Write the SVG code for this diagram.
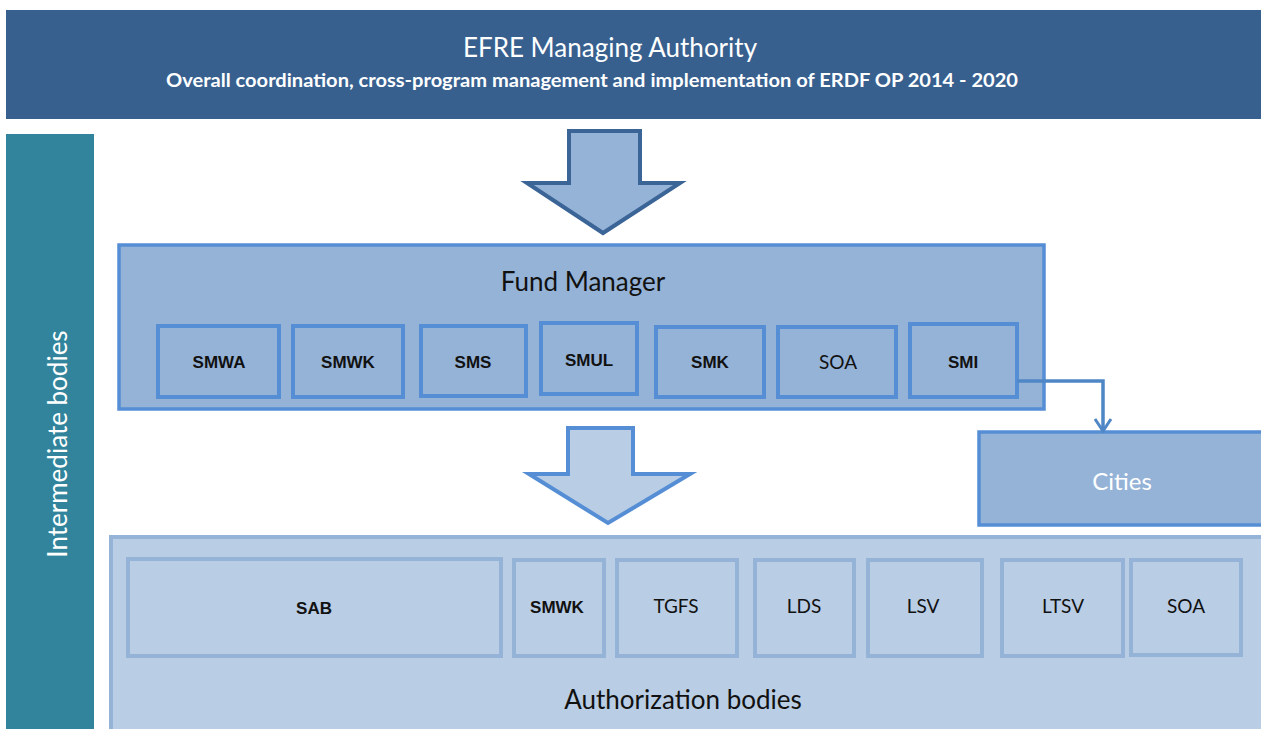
<svg xmlns="http://www.w3.org/2000/svg" width="1261" height="729" viewBox="0 0 1261 729">
  <defs>
    <!-- open chevron head, drawn along +x so orient="auto" turns it with the line -->
    <marker id="chev" viewBox="0 0 16 20" refX="14" refY="10" markerWidth="16" markerHeight="20" markerUnits="userSpaceOnUse" orient="auto">
      <path d="M2 2 L14 10 L2 18" fill="none" stroke="#4f86c6" stroke-width="3"/>
    </marker>
  </defs>
  <style>
    .cal { font-family: Lato, "Open Sans", "Liberation Sans", sans-serif; text-anchor: middle; }
    .ar { font-family: "Liberation Sans", Arial, sans-serif; font-weight: bold; font-size: 17px; fill: #111; text-anchor: middle; }
    .fm-inner { fill: #95b3d7; stroke: #558ed5; stroke-width: 4; }
    .ab-inner { fill: #b9cde5; stroke: #95b3d7; stroke-width: 4; }
    .lbl { font-family: Lato, "Open Sans", "Liberation Sans", sans-serif; font-size: 19px; fill: #111; text-anchor: middle; }
  </style>
  <rect width="1261" height="729" fill="#ffffff"/>

  <!-- managing authority banner -->
  <g id="managing-authority">
    <rect x="6" y="10" width="1260" height="109" fill="#37608f"/>
    <text class="cal" x="610" y="57" font-size="26" fill="#ffffff">EFRE Managing Authority</text>
    <text class="cal" x="592" y="87" font-size="19" font-weight="bold" fill="#ffffff" textLength="852" lengthAdjust="spacingAndGlyphs">Overall coordination, cross-program management and implementation of ERDF OP 2014 - 2020</text>
  </g>

  <!-- side band -->
  <g id="intermediate-bodies">
    <rect x="6" y="134" width="88" height="600" fill="#31849b"/>
    <text class="cal" transform="translate(67 444) rotate(-90)" font-size="26" fill="#ffffff">Intermediate bodies</text>
  </g>

  <!-- fund manager -->
  <g id="fund-manager">
    <rect x="119" y="245" width="925" height="164" fill="#95b3d7" stroke="#558ed5" stroke-width="3.5"/>
    <text class="cal" x="583" y="291" font-size="26" fill="#111">Fund Manager</text>
  </g>
  <g id="smwa"><rect class="fm-inner" x="158" y="326" width="121" height="71"/><text class="ar" x="219" y="368">SMWA</text></g>
  <g id="smwk"><rect class="fm-inner" x="293" y="326" width="110" height="71"/><text class="ar" x="348" y="368">SMWK</text></g>
  <g id="sms"><rect class="fm-inner" x="421" y="326" width="105" height="70"/><text class="ar" x="473" y="368">SMS</text></g>
  <g id="smul"><rect class="fm-inner" x="541" y="323" width="96" height="71"/><text class="ar" x="589" y="366">SMUL</text></g>
  <g id="smk"><rect class="fm-inner" x="656" y="327" width="108" height="70"/><text class="ar" x="710" y="368">SMK</text></g>
  <g id="soa-fm"><rect class="fm-inner" x="778" y="327" width="118" height="70"/><text class="lbl" x="838" y="369">SOA</text></g>
  <g id="smi"><rect class="fm-inner" x="910" y="324" width="107" height="73"/><text class="ar" x="963" y="368">SMI</text></g>

  <!-- cities -->
  <g id="cities">
    <rect x="979" y="432" width="290" height="93" fill="#95b3d7" stroke="#558ed5" stroke-width="3.5"/>
    <text class="cal" x="1122" y="490" font-size="24" fill="#ffffff">Cities</text>
  </g>

  <!-- authorization bodies -->
  <g id="authorization-bodies">
    <rect x="111" y="537" width="1160" height="200" fill="#b9cde5" stroke="#95b3d7" stroke-width="4"/>
    <text class="cal" x="683" y="709" font-size="26" fill="#111">Authorization bodies</text>
  </g>
  <g id="sab"><rect class="ab-inner" x="128" y="559" width="373" height="97"/><text class="ar" x="314" y="614">SAB</text></g>
  <g id="smwk-ab"><rect class="ab-inner" x="514" y="560" width="90" height="96"/><text class="ar" x="557" y="613" font-size="15">SMWK</text></g>
  <g id="tgfs"><rect class="ab-inner" x="617" y="560" width="120" height="96"/><text class="lbl" x="676" y="613">TGFS</text></g>
  <g id="lds"><rect class="ab-inner" x="755" y="560" width="99" height="96"/><text class="lbl" x="804" y="613">LDS</text></g>
  <g id="lsv"><rect class="ab-inner" x="868" y="560" width="114" height="96"/><text class="lbl" x="923" y="613">LSV</text></g>
  <g id="ltsv"><rect class="ab-inner" x="1002" y="560" width="121" height="96"/><text class="lbl" x="1063" y="613">LTSV</text></g>
  <g id="soa-ab"><rect class="ab-inner" x="1131" y="560" width="110" height="95"/><text class="lbl" x="1186" y="613">SOA</text></g>

  <g id="connectors">
    <!-- block arrow: authority to fund manager -->
    <path d="M569 131 H640 V183 H680 L603 233 L527 183 H569 Z" fill="#95b3d7" stroke="#3b6497" stroke-width="4"/>
    <!-- block arrow: fund manager to authorization bodies -->
    <path d="M568 428 H633 V474 H690 L608 523 L529 474 H568 Z" fill="#b9cde5" stroke="#558ed5" stroke-width="4"/>
    <!-- SMI to cities -->
    <path d="M1017 381 H1103 V431" fill="none" stroke="#4f86c6" stroke-width="3.5" marker-end="url(#chev)"/>
  </g>
</svg>
